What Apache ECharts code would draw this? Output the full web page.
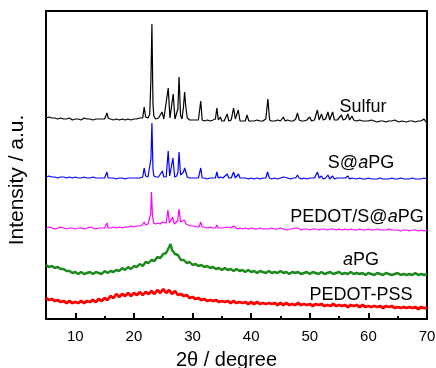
<!DOCTYPE html>
<html>
<head>
<meta charset="utf-8">
<script src="https://cdn.jsdelivr.net/npm/echarts@6/dist/echarts.min.js"></script>
<style>
html,body{margin:0;padding:0;background:#fff;}
#chart{width:436px;height:368px;}
</style>
</head>
<body>
<div id="chart"></div>
<script>
// 2theta (degree) vs intensity (a.u., traces offset as in the figure)
const seriesNames = ['Sulfur', 'S@aPG', 'PEDOT/S@aPG', 'aPG', 'PEDOT-PSS'];
const seriesColors = ['#000000', '#0000ff', '#ff00ff', '#1a8a1a', '#ff0000'];

const sulfur = [[5,201],[5.5,202],[6,201],[6.5,201],[7,200],[7.5,201],[8,200],[8.5,200],[9,201],[9.5,199],[10,200],[10.5,200],[11,199],[11.5,201],[12,200],[12.5,200],[13,199],[13.5,200],[14,200],[14.5,200],[15,200],[15.2,201],[15.4,206],[15.6,201],[16,200],[16.5,199],[17,200],[17.5,199],[18,200],[18.5,199],[19,200],[19.5,199],[20,200],[20.5,200],[21,201],[21.3,203],[21.5,201],[21.75,212],[22,202],[22.4,201],[22.7,205],[22.9,240],[23.07,295],[23.25,215],[23.4,203],[23.7,200],[24.2,201],[24.5,201],[24.8,207],[25.1,200],[25.4,200],[25.85,231],[26.15,201],[26.4,201],[26.7,225],[27,200],[27.3,200],[27.5,210],[27.7,242],[27.95,204],[28.2,200],[28.45,212],[28.65,227],[28.85,212],[29.1,201],[29.5,199],[30,199],[30.5,199],[31,199],[31.4,218],[31.65,199],[32,198],[32.5,199],[33,198],[33.5,199],[33.9,200],[34.15,211],[34.4,199],[34.75,202],[35,198],[35.4,198],[35.9,205],[36.2,198],[36.6,199],[37,211],[37.3,200],[37.5,199],[37.8,209],[38.1,198],[38.6,198],[39,198],[39.3,204],[39.6,198],[40,198],[40.5,198],[41,199],[41.5,198],[42,198],[42.5,200],[42.85,220],[43.15,199],[43.5,198],[44,198],[44.5,199],[45,198],[45.5,202],[45.8,198],[46.2,199],[46.7,198],[47.2,198],[47.6,200],[47.9,206],[48.2,199],[48.6,198],[49,198],[49.5,199],[50,202],[50.3,198],[50.8,199],[51.3,209],[51.6,199],[52,205],[52.3,199],[52.7,200],[53.1,207],[53.4,199],[53.9,207],[54.2,199],[54.7,199],[55,198],[55.4,204],[55.7,199],[56.1,200],[56.5,205],[56.8,199],[57.2,203],[57.5,199],[58,198],[58.5,199],[59,198],[59.5,198],[60,198],[60.5,199],[61,198],[61.5,197],[62,198],[62.5,198],[63,197],[63.5,198],[64,198],[64.5,199],[64.8,200],[65.2,197],[65.7,198],[66,198],[66.5,197],[67,198],[67.5,198],[68,197],[68.5,198],[69,198],[69.5,200],[69.8,197],[70,198]];

const sAPG = [[5,142],[5.5,143],[6,142],[6.5,142],[7,141],[7.5,142],[8,142],[8.5,141],[9,142],[9.5,141],[10,142],[10.5,141],[11,141],[11.5,142],[12,141],[12.5,141],[13,142],[13.5,141],[14,141],[14.5,141],[15,141],[15.2,142],[15.4,147],[15.6,141],[16,141],[16.5,141],[17,140],[17.5,141],[18,141],[18.5,140],[19,141],[19.5,141],[20,141],[20.5,141],[21,141],[21.3,143],[21.5,142],[21.75,151],[22,143],[22.4,142],[22.7,144],[22.9,160],[23.07,196],[23.25,150],[23.4,143],[23.8,142],[24.2,142],[24.5,143],[24.85,148],[25.1,142],[25.5,142],[25.85,168],[26.1,143],[26.35,143],[26.65,161],[26.95,142],[27.3,143],[27.5,147],[27.7,167],[27.95,144],[28.2,142],[28.45,147],[28.65,151],[28.9,149],[29.1,142],[29.5,141],[30,141],[30.5,141],[31,141],[31.4,151],[31.65,141],[32,141],[32.5,140],[33,141],[33.5,141],[33.9,141],[34.15,147],[34.4,141],[34.8,142],[35.2,141],[35.5,141],[35.9,145],[36.2,141],[36.6,141],[37,147],[37.3,141],[37.5,141],[37.85,145],[38.1,141],[38.6,141],[39,141],[39.3,143],[39.6,140],[40,141],[40.5,140],[41,141],[41.5,140],[42,141],[42.5,141],[42.8,147],[43.1,141],[43.5,140],[44,141],[44.5,140],[45,141],[45.5,142],[45.8,140],[46.2,141],[46.7,140],[47.2,141],[47.6,141],[47.9,144],[48.2,141],[48.6,140],[49,141],[49.5,140],[50,141],[50.3,140],[50.8,141],[51.3,147],[51.6,141],[52,143],[52.3,140],[52.7,141],[53.1,144],[53.4,140],[53.9,143],[54.2,140],[54.7,141],[55,140],[55.4,141],[55.7,140],[56.1,141],[56.5,143],[56.8,140],[57.2,141],[57.5,140],[58,140],[58.5,141],[59,140],[59.5,140],[60,141],[60.5,140],[61,140],[61.5,140],[62,141],[62.5,140],[63,140],[63.5,140],[64,141],[64.5,140],[65,140],[65.5,141],[65.8,142],[66.1,140],[66.5,140],[67,140],[67.5,141],[68,140],[68.5,140],[69,140],[69.5,141],[70,140]];

const pedotSAPG = [[5,91],[5.5,92],[6,91],[6.5,90],[7,91],[7.5,92],[8,91],[8.5,90],[9,91],[9.5,91],[10,90],[10.5,91],[11,91],[11.5,90],[12,91],[12.5,92],[13,91],[13.5,90],[14,91],[14.5,91],[15,91],[15.2,92],[15.4,96],[15.6,91],[16,91],[16.5,92],[17,91],[17.5,92],[18,91],[18.5,92],[19,92],[19.5,93],[20,92],[20.5,93],[21,93],[21.4,94],[21.75,97],[22,94],[22.4,95],[22.7,96],[22.85,105],[23.0,127],[23.15,104],[23.35,96],[23.7,95],[24.1,96],[24.5,95],[24.85,97],[25.1,95],[25.5,96],[25.8,109],[26.05,96],[26.3,96],[26.6,102],[26.9,95],[27.2,96],[27.45,98],[27.7,110],[27.95,97],[28.2,95],[28.6,99],[28.9,95],[29.3,94],[29.8,93],[30.2,93],[30.7,92],[31.1,92],[31.4,97],[31.65,92],[32,92],[32.5,91],[33,92],[33.5,91],[33.9,91],[34.15,94],[34.4,91],[34.8,91],[35.2,91],[35.5,90],[35.9,92],[36.2,90],[36.6,91],[37,93],[37.3,91],[37.7,90],[38.1,91],[38.6,90],[39,91],[39.3,91],[39.6,90],[40,91],[40.5,90],[41,90],[41.5,91],[42,90],[42.5,90],[42.8,92],[43.1,90],[43.5,91],[44,90],[44.5,90],[45,91],[45.5,90],[46,89],[46.5,90],[47,90],[47.5,91],[47.9,91],[48.2,90],[48.6,89],[49,90],[49.5,90],[50,89],[50.5,90],[51,90],[51.3,91],[51.6,89],[52,90],[52.5,90],[53,89],[53.5,90],[54,90],[54.5,89],[55,90],[55.5,89],[56,90],[56.5,89],[57,90],[57.5,89],[58,89],[58.5,90],[59,89],[59.5,89],[60,90],[60.5,89],[61,89],[61.5,90],[62,89],[62.5,89],[63,89],[63.5,90],[64,89],[64.5,89],[65,89],[65.5,88],[66,89],[66.5,89],[67,88],[67.5,89],[68,89],[68.5,88],[69,89],[69.5,88],[70,89]];

const aPG = [[5,54],[5.5,52],[6,53],[6.5,51],[7,52],[7.5,50],[8,50],[8.5,48],[9,48],[9.5,46],[10,47],[10.5,45],[11,47],[11.5,45],[12,46],[12.5,47],[13,45],[13.5,47],[14,46],[14.5,45],[15,48],[15.5,46],[16,48],[16.5,47],[17,49],[17.5,48],[18,51],[18.5,49],[19,52],[19.5,50],[20,53],[20.5,52],[21,55],[21.5,53],[22,57],[22.5,56],[23,59],[23.5,58],[24,62],[24.5,61],[25,65],[25.5,66],[26,72],[26.25,75],[26.5,69],[26.75,71],[27,65],[27.5,64],[28,59],[28.5,59],[29,56],[29.5,57],[30,54],[30.5,55],[31,53],[31.5,54],[32,52],[32.5,53],[33,51],[33.5,52],[34,50],[34.5,51],[35,49],[35.5,51],[36,49],[36.5,50],[37,48],[37.5,50],[38,48],[38.5,49],[39,47],[39.5,49],[40,47],[40.5,48],[41,46],[41.5,48],[42,47],[42.5,46],[43,48],[43.5,46],[44,47],[44.5,46],[45,48],[45.5,46],[46,47],[46.5,45],[47,47],[47.5,46],[48,47],[48.5,45],[49,46],[49.5,47],[50,45],[50.5,47],[51,46],[51.5,45],[52,47],[52.5,45],[53,46],[53.5,47],[54,45],[54.5,46],[55,47],[55.5,45],[56,46],[56.5,45],[57,47],[57.5,45],[58,46],[58.5,45],[59,46],[59.5,44],[60,46],[60.5,45],[61,44],[61.5,46],[62,45],[62.5,44],[63,46],[63.5,45],[64,44],[64.5,45],[65,46],[65.5,44],[66,45],[66.5,44],[67,45],[67.5,44],[68,46],[68.5,44],[69,45],[69.5,44],[70,45]];

const pedotPSS = [[5,21],[5.5,19],[6,20],[6.5,18],[7,19],[7.5,17],[8,18],[8.5,16],[9,18],[9.5,16],[10,17],[10.5,16],[11,18],[11.5,16],[12,18],[12.5,17],[13,19],[13.5,17],[14,20],[14.5,18],[15,21],[15.5,19],[16,23],[16.5,21],[17,25],[17.5,22],[18,25],[18.5,23],[19,26],[19.5,23],[20,26],[20.5,24],[21,27],[21.5,24],[22,27],[22.5,25],[23,28],[23.5,25],[24,29],[24.5,26],[25,30],[25.5,26],[26,29],[26.5,25],[27,28],[27.5,24],[28,25],[28.5,23],[29,24],[29.5,21],[30,22],[30.5,20],[31,21],[31.5,19],[32,20],[32.5,18],[33,19],[33.5,18],[34,19],[34.5,17],[35,18],[35.5,17],[36,18],[36.5,16],[37,18],[37.5,16],[38,17],[38.5,16],[39,17],[39.5,15],[40,17],[40.5,15],[41,17],[41.5,15],[42,16],[42.5,15],[43,16],[43.5,15],[44,16],[44.5,14],[45,16],[45.5,14],[46,16],[46.5,14],[47,15],[47.5,14],[48,16],[48.5,14],[49,15],[49.5,14],[50,15],[50.5,13],[51,15],[51.5,14],[52,15],[52.5,13],[53,14],[53.5,13],[54,15],[54.5,13],[55,14],[55.5,13],[56,14],[56.5,12],[57,14],[57.5,13],[58,14],[58.5,12],[59,14],[59.5,12],[60,13],[60.5,12],[61,13],[61.5,12],[62,13],[62.5,11],[63,13],[63.5,12],[64,13],[64.5,11],[65,12],[65.5,11],[66,12],[66.5,11],[67,12],[67.5,11],[68,12],[68.5,10],[69,12],[69.5,11],[70,11]];

const allData = [sulfur, sAPG, pedotSAPG, aPG, pedotPSS];
const lineWidths = [1.2, 1.2, 1.2, 2.4, 2.8];

const FONT = '"Liberation Sans", Arial, sans-serif';
const chart = echarts.init(document.getElementById('chart'), null, {renderer: 'canvas'});

const gridBox = {left: 46, right: 9, top: 11, bottom: 49, containLabel: false, outerBoundsMode: 'none'};

const labelSpecs = [
  {text: 'Sulfur', x: 363, y: 107},
  {text: 'S@{it|a}PG', x: 361, y: 163},
  {text: 'PEDOT/S@{it|a}PG', x: 357, y: 217},
  {text: '{it|a}PG', x: 361, y: 260},
  {text: 'PEDOT-PSS', x: 361, y: 295}
];

const frameLine = {show: true, onZero: false, lineStyle: {color: '#000', width: 2}};

const option = {
  animation: false,
  backgroundColor: '#fff',
  grid: [
    Object.assign({show: false}, gridBox),
    Object.assign({show: false}, gridBox)
  ],
  xAxis: [
    {
      type: 'value', gridIndex: 0, min: 5, max: 70, position: 'bottom',
      name: '2\u03b8 / degree', nameLocation: 'middle', nameGap: 31,
      nameTextStyle: {fontSize: 20, color: '#000', fontFamily: FONT, padding: [0, 20, 0, 0]},
      axisLine: frameLine,
      axisTick: {show: true, inside: true, length: 6, lineStyle: {color: '#000', width: 2}},
      axisLabel: {show: true, showMinLabel: false, margin: 10, fontSize: 15, color: '#000', fontFamily: FONT},
      splitLine: {show: false}
    },
    {
      type: 'value', gridIndex: 0, min: 5, max: 70, position: 'top',
      axisLine: frameLine, axisTick: {show: false}, axisLabel: {show: false}, splitLine: {show: false}
    },
    {
      type: 'value', gridIndex: 1, min: 5, max: 70, interval: 5, position: 'bottom',
      axisLine: {show: false, onZero: false},
      axisTick: {show: true, inside: true, length: 3, lineStyle: {color: '#000', width: 2}},
      axisLabel: {show: false},
      splitLine: {show: false}
    }
  ],
  yAxis: [
    {
      type: 'value', gridIndex: 0, min: 0, max: 308, position: 'left',
      name: 'Intensity / a.u.', nameLocation: 'middle', nameGap: 18, nameRotate: 90,
      nameTextStyle: {fontSize: 21, color: '#000', fontFamily: FONT, padding: [0, 30, 0, 0]},
      axisLine: frameLine,
      axisTick: {show: false}, axisLabel: {show: false}, splitLine: {show: false}
    },
    {
      type: 'value', gridIndex: 0, min: 0, max: 308, position: 'right',
      axisLine: frameLine, axisTick: {show: false}, axisLabel: {show: false}, splitLine: {show: false}
    },
    {
      type: 'value', gridIndex: 1, min: 0, max: 308, show: false
    }
  ],
  series: allData.map((d, i) => ({
    name: seriesNames[i],
    type: 'line',
    xAxisIndex: 0, yAxisIndex: 0,
    data: d,
    showSymbol: false, symbol: 'none',
    lineStyle: {color: seriesColors[i], width: lineWidths[i]},
    itemStyle: {color: seriesColors[i]},
    z: 5 - i
  })),
  graphic: labelSpecs.map(s => ({
    type: 'text', x: s.x, y: s.y, z: 100,
    style: {
      text: s.text, align: 'center', verticalAlign: 'middle',
      fontSize: 18, fontFamily: FONT, fill: '#000',
      rich: {it: {fontStyle: 'italic', fontSize: 18, fontFamily: FONT, fill: '#000'}}
    }
  }))
};
chart.setOption(option);
</script>
</body>
</html>
